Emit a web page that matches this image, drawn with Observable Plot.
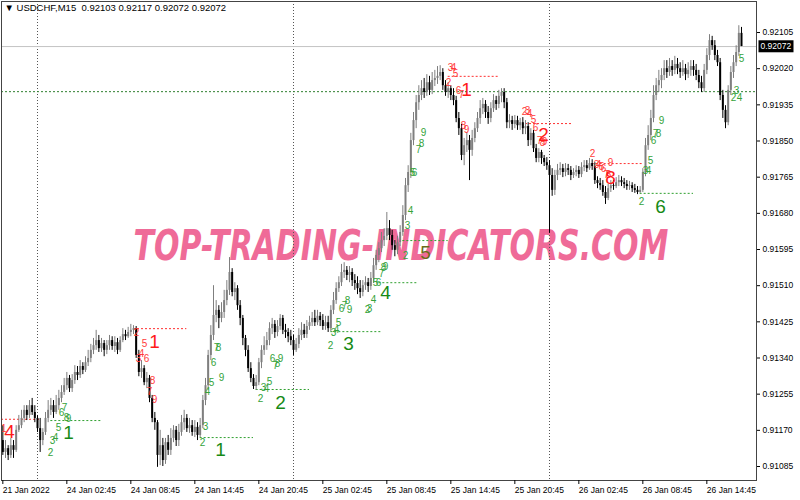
<!DOCTYPE html>
<html><head><meta charset="utf-8">
<script src="https://cdn.jsdelivr.net/npm/d3@7"></script>
<script src="https://cdn.jsdelivr.net/npm/@observablehq/plot@0.6"></script>
<style>html,body{margin:0;padding:0;background:#fff;}#chart{width:800px;height:500px;}</style>
</head><body><div id="chart"></div>
<script>
// ---- data (prices in points: price = 0.9 + v/100000) ----
const symbolTitle = "\u25BC USDCHF,M15  0.92103 0.92117 0.92072 0.92072";
const watermark = "TOP-TRADING-INDICATORS.COM";
const firstBar = -13; // bar index of first candle (0 = 24 Jan 00:00, M15)
const ohlcPoints = [
[1146,1181,1111,1118],[1118,1146,1104,1127],[1127,1134,1099,1111],[1111,1151,1104,1134],[1134,1146,1104,1123],
[1123,1181,1118,1170],[1170,1205,1165,1181],[1181,1217,1174,1198],[1198,1228,1188,1217],[1217,1228,1193,1205],
[1205,1240,1198,1228],[1228,1245,1205,1212],[1212,1228,1188,1198],
[1198,1205,1165,1174],[1174,1198,1118,1146],[1146,1174,1134,1165],[1165,1212,1158,1198],[1198,1240,1188,1217],
[1217,1245,1205,1228],[1228,1240,1198,1212],[1212,1252,1207,1228],[1228,1264,1217,1245],[1245,1275,1235,1259],
[1259,1292,1252,1275],
[1275,1306,1264,1292],[1292,1299,1259,1268],[1268,1301,1259,1287],[1287,1322,1278,1306],[1306,1320,1287,1299],
[1299,1334,1292,1320],[1320,1329,1301,1311],[1311,1343,1306,1329],[1329,1358,1320,1339],[1339,1372,1329,1358],
[1358,1386,1348,1369],[1369,1405,1358,1381],[1381,1393,1353,1362],[1362,1386,1353,1374],[1374,1381,1343,1358],
[1358,1381,1348,1369],[1369,1393,1358,1381],[1381,1390,1358,1367],[1367,1390,1353,1376],[1376,1386,1348,1358],
[1358,1390,1353,1381],[1381,1409,1376,1395],[1395,1405,1381,1390],[1390,1412,1386,1400],[1400,1419,1390,1405],
[1405,1416,1395,1409],
[1409,1414,1339,1346],[1346,1358,1296,1306],[1306,1334,1292,1315],[1315,1322,1275,1282],[1282,1306,1268,1292],
[1292,1299,1235,1245],[1245,1252,1188,1198],[1198,1212,1170,1188],[1188,1193,1083,1111],
[1111,1170,1087,1134],[1134,1151,1085,1099],[1099,1151,1090,1141],[1141,1158,1111,1123],[1123,1174,1111,1151],
[1151,1181,1141,1170],[1170,1179,1132,1146],[1146,1184,1132,1165],[1165,1205,1156,1188],[1188,1217,1170,1198],
[1198,1207,1165,1174],[1174,1198,1163,1181],[1181,1193,1156,1165],[1165,1193,1153,1177],[1177,1188,1146,1158],
[1158,1198,1153,1181],
[1181,1252,1174,1240],[1240,1292,1228,1275],[1275,1358,1264,1346],[1346,1416,1334,1393],[1393,1510,1381,1440],
[1440,1475,1423,1452],[1452,1463,1409,1433],[1433,1470,1423,1447],[1447,1499,1433,1475],[1475,1522,1463,1499],
[1499,1576,1487,1541],
[1541,1550,1484,1494],[1494,1517,1475,1503],[1503,1510,1452,1463],[1463,1475,1416,1433],[1433,1440,1369,1386],
[1386,1393,1343,1358],[1358,1369,1306,1315],[1315,1329,1282,1292],[1292,1301,1266,1273],[1273,1299,1264,1282],
[1282,1339,1275,1329],[1329,1369,1315,1358],[1358,1390,1346,1369],[1369,1400,1358,1381],[1381,1423,1369,1409],
[1409,1433,1395,1419],[1419,1428,1386,1400],[1400,1428,1390,1414],[1414,1442,1405,1433],[1433,1440,1395,1405],
[1405,1419,1386,1400],[1400,1409,1376,1390],[1390,1405,1369,1381],[1381,1393,1346,1358],[1358,1386,1353,1372],
[1372,1409,1362,1393],[1393,1423,1381,1405],[1405,1419,1386,1395],[1395,1428,1386,1414],[1414,1438,1405,1423],
[1423,1447,1414,1433],[1433,1452,1414,1423],[1423,1452,1416,1438],[1438,1447,1414,1428],[1428,1442,1405,1414],
[1414,1438,1405,1423],[1423,1438,1400,1409],[1409,1463,1402,1452],[1452,1494,1442,1475],[1475,1517,1466,1503],
[1503,1531,1494,1517],[1517,1560,1508,1541],[1541,1564,1527,1546],
[1546,1555,1522,1534],[1534,1555,1517,1541],[1541,1550,1508,1522],[1522,1536,1499,1515],[1515,1531,1489,1503],
[1503,1522,1480,1494],[1494,1522,1484,1510],[1510,1531,1499,1517],[1517,1527,1494,1508],[1508,1541,1499,1527],
[1527,1574,1515,1557],[1557,1593,1546,1581],
[1581,1611,1564,1597],[1597,1635,1588,1616],[1616,1644,1602,1626],[1626,1682,1616,1644],[1644,1663,1616,1628],
[1628,1640,1593,1604],[1604,1616,1578,1593],[1593,1626,1583,1611],[1611,1651,1602,1635],[1635,1698,1626,1675],
[1675,1762,1663,1745],[1745,1792,1729,1776],[1776,1868,1762,1851],[1851,1917,1839,1898],[1898,1957,1879,1940],
[1940,1980,1922,1957],[1957,1992,1945,1973],[1973,1997,1950,1964],[1964,2006,1955,1987],[1987,2002,1957,1969],
[1969,2011,1959,1992],[1992,2016,1978,1997],[1997,2025,1983,2002],[2002,2027,1992,2011],[2011,2020,1969,1980],
[1980,1992,1955,1964],[1964,1987,1950,1973],[1973,1980,1945,1957],[1957,1973,1933,1945],[1945,1955,1893,1903],
[1903,1917,1863,1879],[1879,1889,1804,1816],[1816,1856,1792,1839],[1839,1870,1823,1851],[1851,1863,1757,1828],
[1828,1875,1814,1856],
[1856,1893,1846,1879],[1879,1917,1870,1903],[1903,1945,1889,1926],[1926,1950,1912,1936],[1936,1945,1903,1917],
[1917,1931,1889,1903],[1903,1940,1893,1926],[1926,1959,1917,1945],[1945,1955,1922,1936],[1936,1969,1926,1955],
[1955,1973,1940,1964],[1964,1973,1926,1940],[1940,1950,1879,1893],
[1893,1912,1879,1898],[1898,1908,1875,1889],[1889,1910,1879,1898],[1898,1908,1875,1886],[1886,1903,1875,1893],
[1893,1905,1865,1879],[1879,1898,1865,1884],[1884,1893,1837,1851],[1851,1879,1839,1868],[1868,1875,1823,1832],
[1832,1842,1799,1809],[1809,1832,1799,1823],[1823,1828,1795,1809],[1809,1816,1790,1799],[1799,1811,1781,1792],
[1792,1804,1633,1769],[1769,1785,1720,1734],[1734,1781,1722,1769],[1769,1795,1757,1781],[1781,1799,1769,1785],
[1785,1795,1764,1776],[1776,1797,1766,1785],[1785,1795,1769,1781],[1781,1790,1757,1769],[1769,1785,1762,1776],
[1776,1792,1766,1781],[1781,1790,1762,1771],[1771,1799,1764,1788],[1788,1804,1778,1792],[1792,1804,1776,1785],
[1785,1809,1781,1797],[1797,1806,1781,1790],[1790,1799,1748,1757],[1757,1766,1738,1750],[1750,1762,1734,1745],
[1745,1757,1720,1729],[1729,1743,1701,1715],[1715,1748,1710,1738],[1738,1757,1729,1745],[1745,1757,1734,1743],
[1743,1764,1738,1752],[1752,1769,1743,1757],[1757,1766,1743,1752],[1752,1762,1738,1748],[1748,1757,1734,1743],
[1743,1755,1734,1745],[1745,1752,1729,1738],[1738,1748,1727,1734],[1734,1743,1724,1729],[1729,1743,1727,1734],
[1734,1785,1729,1776],[1776,1856,1766,1839],[1839,1886,1828,1863],[1863,1922,1851,1903],[1903,1980,1893,1957],
[1957,1997,1945,1980],[1980,2016,1964,1992],[1992,2020,1973,2004],[2004,2039,1992,2020],[2020,2039,1997,2011],
[2011,2044,2002,2025],[2025,2039,2002,2016],[2016,2049,2006,2030],[2030,2044,2006,2020],[2020,2034,1997,2011],
[2011,2039,2002,2020],[2020,2030,1992,2006],[2006,2034,1997,2016],
[2016,2039,2002,2025],[2025,2039,2002,2016],[2016,2030,1992,2004],[2004,2016,1973,1987],[1987,2002,1964,1973],
[1973,2030,1964,2016],[2016,2067,2006,2051],[2051,2100,2039,2086],[2086,2096,2063,2074],[2074,2086,2039,2051],
[2051,2063,2025,2034],[2034,2044,1945,1957],[1957,1969,1903,1922],[1922,1933,1879,1893],[1893,1980,1886,1969],
[1969,2025,1957,2011],[2011,2051,1997,2034],[2034,2074,2025,2058],[2058,2121,2049,2103],[2103,2117,2072,2072]
];
const priceTicks = [1085,1170,1255,1340,1425,1510,1595,1680,1765,1850,1935,2020,2105];
const timeTicks = [-13,11,35,59,83,107,131,155,179,203,227,251];
const timeLabels = ["21 Jan 2022","24 Jan 02:45","24 Jan 08:45","24 Jan 14:45","24 Jan 20:45","25 Jan 02:45",
  "25 Jan 08:45","25 Jan 14:45","25 Jan 20:45","26 Jan 02:45","26 Jan 08:45","26 Jan 14:45"];
const daySeparators = [0,96,192];
const bidPrice = 2072;
const markerLevel = 1966;
const buyCounts = [
[4.9,1118,"2"],[5.6,1146,"3"],[6.8,1153,"4"],[7.9,1177,"5"],[9,1212,"6"],[10.1,1224,"7"],[10.9,1200,"8"],[11.6,1198,"9"],
[61.9,1141,"2"],[63,1179,"3"],[63.8,1261,"4"],[65.3,1282,"5"],[66,1329,"6"],[67.1,1365,"7"],[67.9,1365,"8"],[69,1294,"9"],
[83.6,1245,"2"],[84.8,1271,"3"],[85.9,1268,"4"],[87,1285,"5"],[88.1,1339,"6"],[89.3,1322,"7"],[90,1327,"8"],[91.1,1339,"9"],
[109.9,1369,"2"],[111,1400,"3"],[112.1,1407,"4"],[112.9,1423,"5"],[114,1456,"6"],[115.1,1463,"7"],[116.3,1475,"8"],[117,1454,"9"],
[123.8,1454,"2"],[124.5,1456,"3"],[126,1477,"4"],[126.8,1517,"5"],[127.9,1517,"6"],[129,1539,"7"],[129.8,1553,"8"],[130.5,1555,"9"],
[138,1581,"2"],[138.8,1651,"3"],[139.9,1687,"4"],[140.6,1776,"5"],[141.4,1776,"6"],[142.9,1830,"7"],[144,1844,"8"],[144.8,1870,"9"],
[226.5,1708,"2"],[228,1781,"3"],[229.1,1781,"4"],[229.9,1804,"5"],[231,1851,"6"],[231.8,1868,"7"],[232.9,1868,"8"],[234,1898,"9"],
[261,1952,"2"],[262.1,1969,"3"],[263.3,1952,"4"],[264,2044,"5"]
];
const sellCounts = [
[-12.6,1174,"1"],
[37.1,1400,"2"],[37.9,1339,"3"],[39,1351,"4"],[40.1,1374,"5"],[40.9,1337,"6"],[42,1261,"7"],[43.1,1287,"8"],[43.9,1242,"9"],
[154.1,1987,"2"],[154.9,2023,"3"],[156,2023,"4"],[156.8,2009,"5"],[157.9,1969,"6"],[159,1959,"7"],[159.8,1886,"8"],[160.9,1877,"9"],
[182.6,1919,"2"],[183.8,1922,"3"],[184.5,1914,"4"],[186,1901,"5"],[186.8,1882,"6"],[188.3,1851,"7"],[189.4,1846,"8"],[190.1,1849,"9"],
[208.1,1820,"2"],[209.6,1795,"3"],[210.4,1795,"4"],[211.5,1790,"5"],[212.3,1785,"6"],[213.4,1771,"7"],[214.1,1771,"8"],[214.9,1799,"9"]
];
const buySetups = [[11.6,1165,"1"],[68.6,1123,"1"],[91.1,1235,"2"],[116.6,1374,"3"],[130.5,1492,"4"],[233.6,1696,"6"]];
const neutralSetups = [[145.5,1588,"5"]];
const sellSetups = [[-10.5,1167,"4"],[43.9,1379,"1"],[160.9,1971,"1"],[189.8,1865,"2"],[214.9,1764,"8"]];
const supportLines = [[5,24,1193],[61,81,1153],[82,102,1266],[110,129,1402],[128,143,1517],[137,154,1616],[226,246,1727]];
const resistanceLines = [[-13.5,1,1196],[36,56,1409],[154,173,2002],[183,201,1891],[208,227,1797]];

// ---- build ----
const P = v => 0.9 + v / 1e5;
const candles = ohlcPoints.map(([o,h,l,c],k) => ({i: firstBar + k, o: P(o), h: P(h), l: P(l), c: P(c), up: c >= o}));
const labelOf = new Map(timeTicks.map((t,k) => [t, timeLabels[k]]));
const bull = "#7f7f7f", bear = "#000000";
const font = "'Liberation Sans', Arial, sans-serif";
const bidText = P(bidPrice).toFixed(5);

const plot = Plot.plot({
  width: 800, height: 500,
  marginTop: 1, marginBottom: 20, marginLeft: 1, marginRight: 44,
  style: {background: "#fff", fontFamily: font, fontSize: "8.5px", color: "#000"},
  x: {domain: [-13.5, 269.625]},
  y: {domain: [P(1052.1), P(2177.9)]},
  marks: [
    Plot.text([watermark], {frameAnchor: "middle", dx: 22, dy: 6, fill: "#ef6b98",
      fontSize: 42, fontWeight: "bold", fontStyle: "italic", fontFamily: "'DejaVu Sans', sans-serif"}),
    Plot.ruleX(daySeparators, {x: d => d, stroke: "#555", strokeDasharray: "1,2"}),
    Plot.ruleY([markerLevel], {y: d => P(d), stroke: "#2f7f2f", strokeDasharray: "2,2"}),
    Plot.ruleY([bidPrice], {y: d => P(d), stroke: "#c4c4c4"}),
    Plot.ruleY(supportLines, {y: d => P(d[2]), x1: d => d[0], x2: d => d[1], stroke: "#2fa02f", strokeDasharray: "2,2"}),
    Plot.ruleY(resistanceLines, {y: d => P(d[2]), x1: d => d[0], x2: d => d[1], stroke: "#ff3030", strokeDasharray: "2,2"}),
    Plot.ruleX(candles, {x: "i", y1: "l", y2: "h", stroke: d => d.up ? bull : bear, strokeWidth: 1}),
    Plot.ruleX(candles, {x: "i", y1: "o", y2: d => (Math.abs(d.c - d.o) < 0.000005 ? d.o - 0.00002 : d.c), stroke: d => d.up ? bull : bear, strokeWidth: 2}),
    Plot.text(buyCounts, {x: d => d[0], y: d => P(d[1]), text: d => d[2], fill: "#34a33a", fontSize: 10}),
    Plot.text(sellCounts, {x: d => d[0], y: d => P(d[1]), text: d => d[2], fill: "#ff3b3b", fontSize: 10}),
    Plot.text(buySetups, {x: d => d[0], y: d => P(d[1]), text: d => d[2], fill: "#168a16", fontSize: 19}),
    Plot.text(neutralSetups, {x: d => d[0], y: d => P(d[1]), text: d => d[2], fill: "#6b6b1a", fontSize: 19}),
    Plot.text(sellSetups, {x: d => d[0], y: d => P(d[1]), text: d => d[2], fill: "#ff1a1a", fontSize: 19}),
    Plot.frame({stroke: "#444"}),
    Plot.axisY(priceTicks.map(P), {anchor: "right", tickSize: 3, tickPadding: 3, tickFormat: d => d.toFixed(5), label: null}),
    Plot.axisX(timeTicks, {anchor: "bottom", tickSize: 4, tickPadding: 2, tickFormat: d => labelOf.get(d), textAnchor: "start", label: null}),
    Plot.text([symbolTitle], {frameAnchor: "top-left", dx: 3, dy: 3, lineAnchor: "top", textAnchor: "start", fontSize: 9.5, fill: "#000"}),
    Plot.text([bidPrice], {y: d => P(d), frameAnchor: "right", dx: 4, textAnchor: "start", text: () => bidText, fill: "#fff"})
  ]
});

document.getElementById("chart").appendChild(plot);
const svg = d3.select(plot);
svg.selectAll("text").filter(function(){ return this.textContent === watermark; })
  .attr("textLength", 535).attr("lengthAdjust", "spacingAndGlyphs");
svg.selectAll("text").filter(function(){ return this.textContent === bidText; })
  .each(function(){
    const b = this.getBBox();
    const t = this.getAttribute("transform");
    const r = document.createElementNS("http://www.w3.org/2000/svg", "rect");
    r.setAttribute("x", b.x - 2); r.setAttribute("y", b.y - 1);
    r.setAttribute("width", b.width + 4); r.setAttribute("height", b.height + 2);
    r.setAttribute("fill", "#000");
    if (t) r.setAttribute("transform", t);
    this.parentNode.insertBefore(r, this);
  });
</script></body></html>
